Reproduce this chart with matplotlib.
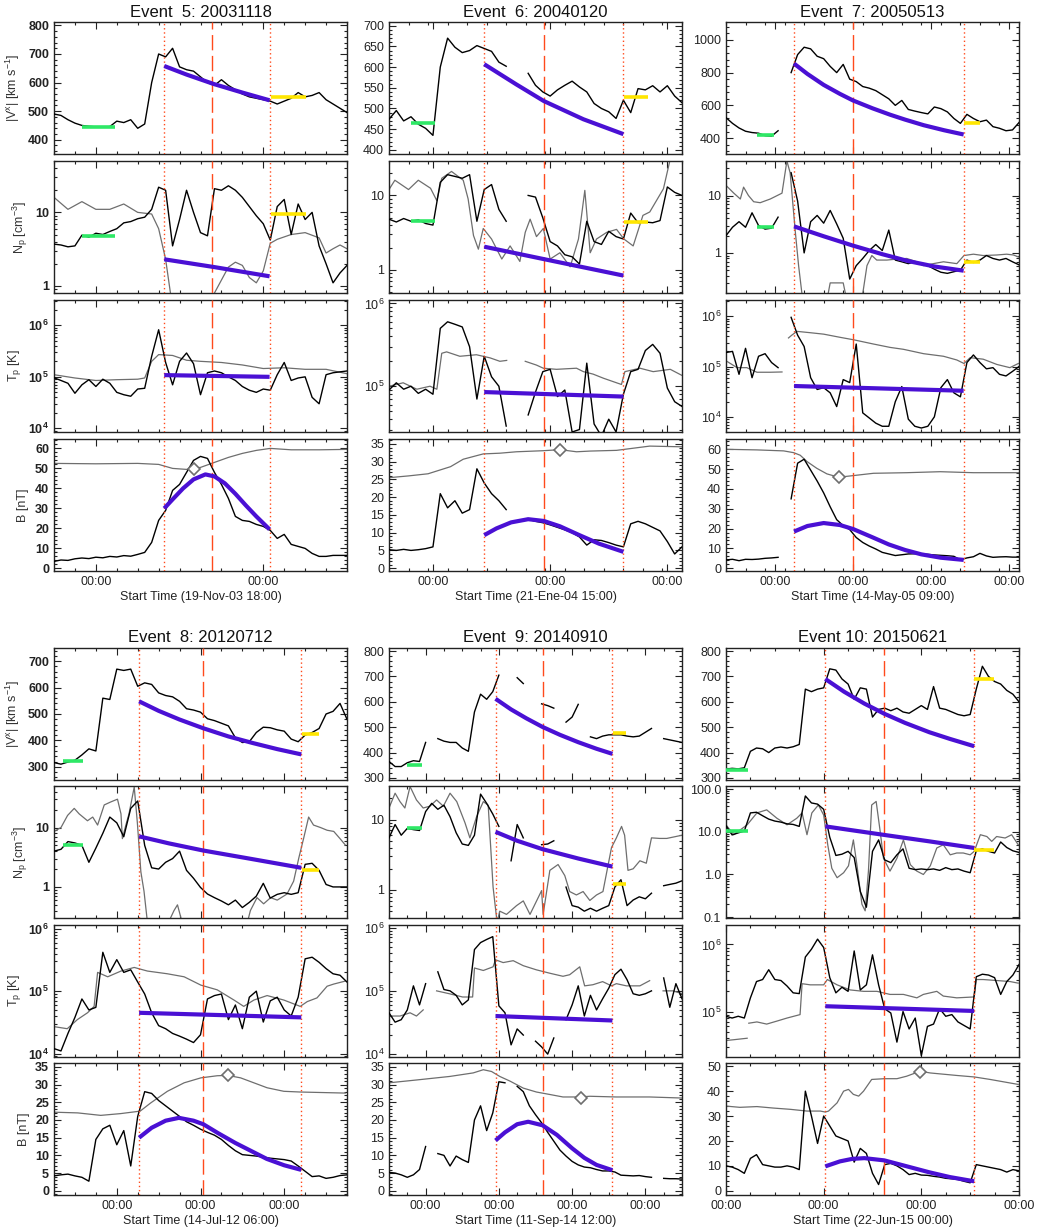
import numpy as np
import matplotlib
matplotlib.use('Agg')
import matplotlib.pyplot as plt
from matplotlib.ticker import (MultipleLocator, FixedLocator, LogLocator,
                               NullFormatter, FuncFormatter, AutoMinorLocator)

plt.rcParams['font.family'] = ['Liberation Sans', 'DejaVu Sans']
plt.rcParams['mathtext.fontset'] = 'custom'
plt.rcParams['mathtext.rm'] = 'Liberation Sans'
plt.rcParams['mathtext.bf'] = 'Liberation Sans:bold'
plt.rcParams['mathtext.default'] = 'regular'

nan = np.nan

# ---------------- Event 5 (hours after 19-Nov-03 18:00, 1 h samples) ----------------
e5_v = [490, 485, 470, 458, 450, 447, 445, 444, 446, 465, 460, 470, 440, 455, 600, 700, 690, 720, 655, 645,
        640, 620, 600, 590, 610, 590, 575, 560, 550, 545, 540, 535, 525, 535, 545, 565, 550, 555, 565, 540,
        525, 510, 495]
e5_n = [3.7, 3.6, 3.4, 3.5, 4.9, 4.6, 5.2, 5.0, 5.5, 6.0, 7.2, 7.5, 8.2, 8.6, 11, 22, 20, 3.5, 8, 20,
        10, 5.3, 4.8, 21, 20, 23, 20, 16, 12, 9, 7, 4.2, 12, 15, 5, 13, 8, 10, 3.5, 2,
        1.1, 1.5, 1.9]
e5_t = [96, 85, 75, 48, 70, 88, 65, 90, 75, 50, 45, 42, 58, 60, 250, 820, 190, 70, 200, 290,
        180, 45, 120, 130, 120, 100, 85, 65, 55, 50, 58, 55, 110, 190, 85, 95, 100, 40, 30, 110,
        120, 125, 130]
e5_b = [3.5, 4.2, 4.0, 4.8, 5.2, 4.9, 5.6, 5.3, 6.0, 5.7, 6.4, 6.1, 7.0, 8.0, 13, 24, 29, 39, 42, 48,
        54, 56, 55, 48, 42, 35, 26, 24, 23.5, 22, 21, 19, 15, 17, 12, 11, 10, 7.5, 6, 6,
        6.5, 6.5, 6.5]
e5_ng_t = [0, 2, 4, 6, 8, 10, 12, 14, 15, 16, 17, 22, 23, 24, 25, 26, 27, 28, 29, 30, 31, 32, 34, 36, 38, 39, 40, 41, 42]
e5_ng = [16, 11, 14, 11, 11, 13, 10, 9.5, 6, 2.3, 0.5, 0.5, 0.8, 1.2, 1.8, 2.1, 1.9, 1.3, 1.1, 1.6, 3.8, 4.3, 5, 5.3,
         4.5, 2.8, 3.2, 3.6, 3.2]
e5_tg_t = [0, 3, 6, 9, 12, 13, 14, 15, 17, 19, 21, 24, 27, 30, 33, 36, 39, 42]
e5_tg = [110, 95, 85, 88, 90, 95, 200, 270, 260, 210, 200, 190, 170, 145, 150, 140, 140, 115]
e5_bg_t = [0, 6, 12, 15, 17, 19, 21, 23, 25, 27, 29, 31, 34, 38, 42]
e5_bg = [52.5, 52.3, 52.5, 52, 50, 49.5, 50.5, 53, 55.5, 57.5, 59, 60, 59.3, 59.3, 59.5]
e5_vfit_t = [15.8, 19, 22.9, 27, 30.9]
e5_vfit = [658, 628, 595, 565, 538]
e5_nfit_t = [15.8, 23, 30.9]
e5_nfit = [2.3, 1.8, 1.35]
e5_tfit_t = [15.8, 30.9]
e5_tfit = [108, 100]
e5_bfit_t = [15.8, 17, 18.5, 20, 21.7, 23, 24.5, 26, 27.5, 29, 30.9]
e5_bfit = [30, 34.5, 40, 44.5, 47, 46, 42.5, 37.3, 31.5, 26, 19.5]

# ---------------- Event 6 (hours after 21-Jan-04 15:00, 1.5 h samples) ----------------
e6_v = [474, 495, 470, 480, 462, 452, 435, 600, 670, 648, 635, 640, 652, 645, 638, 612, 602, nan, nan, 585,
        556, 540, 530, 545, 556, 566, 552, 540, 512, 500, 492, 476, 520, 490, 548, 545, 555, 540, 555, 530, 514]
e6_n = [4.8, 4.4, 4.9, 4.5, 4.7, 4.2, 4.0, 15, 19, 18, 17, 19, 4.5, 12, 14, 6.5, 4.5, nan, nan, 10,
        9.5, 5, 2.4, 2.1, 1.6, 1.5, 1.2, 4.5, 2.4, 2.2, 3.3, 2.8, 2.6, 5.8, 4.3, 4.4, 4.3, 4.6, 13, 11, 10]
e6_t = [90, 110, 92, 100, 82, 92, 80, 500, 600, 560, 520, 300, 70, 230, 130, 100, 33, nan, nan, 45,
        85, 150, 160, 75, 90, 28, 30, 190, 35, 25, 40, 28, 80, 150, 160, 270, 320, 250, 95, 65, 57]
e6_b = [5.2, 5, 5.3, 5, 5.2, 5.5, 6, 21, 17, 19, 15.5, 16.5, 28, 24, 21, 19, 16.5, nan, nan, 13.8,
        13.2, 12.8, 12.2, 11.5, 10.8, 10, 8.8, 6.5, 8, 7.8, 7.2, 6.5, 6, 12.5, 13.2, 12.5, 11.5, 10.5, 7.5, 4, 6]
e6_ng_t = [0, 1.2, 4, 6, 8.5, 9.8, 10.8, 12.8, 15.2, 16.2, 17.3, 18.3, 19.3, 21, 23.1, 24.8, 26.8, 27.9, 28.9,
           30.2, 31.6, 33, 35, 37.1, 38.8, 40.1, 41.2, 42.5, 44.6, 46.6, 48.1, 50, 52, 53.4, 56.2, 57.5, 58.5]
e6_ng = [12, 16, 12, 16, 12.5, 8.5, 17, 21, 16, 9, 2.9, 1.9, 3.6, 2.6, 1.4, 2.1, 1.3, 3.2, 4.8, 2.8,
         3.6, 1.4, 1.7, 1.1, 2.6, 11.7, 1.7, 2.6, 3.2, 3.5, 2.6, 2.1, 5.4, 6, 12.3, 29, 45]
e6_tg_t = [0, 2.9, 5.7, 8.4, 9.8, 10.8, 11.8, 14.5, 17.9, 20.7, 22.7, 24.1, 25, 27.9, 30.2, 31.6, 34.3, 38.4,
           39.8, 41.8, 43.9, 46.6, 47.6, 48.3, 51.4, 54.1, 57.6, 60]
e6_tg = [100, 110, 92, 100, 92, 250, 260, 230, 240, 220, 200, 205, nan, 200, 180, 165, 160, 165,
         150, 140, 125, 110, 105, 150, 165, 150, 160, 135]
e6_bg_t = [0, 4, 8, 12.6, 15.2, 19.3, 22.7, 26.1, 31.6, 35, 38.4, 41.2, 46.6, 53.4, 60]
e6_bg = [25.5, 26, 26.6, 28.6, 30.7, 32.2, 32.4, 32.8, 33.1, 33.4, 32.8, 33, 33.2, 34.4, 34.2]
e6_vfit_t = [19.5, 26.1, 31.7, 39.8, 48]
e6_vfit = [607, 558, 518, 474, 438]
e6_nfit_t = [19.5, 34, 48]
e6_nfit = [2.05, 1.3, 0.84]
e6_tfit_t = [19.5, 48]
e6_tfit = [85, 75]
e6_bfit_t = [19.5, 22, 25, 28.5, 31.7, 35, 39, 43, 48]
e6_bfit = [9.3, 11.2, 12.9, 13.8, 13.3, 11.8, 9.3, 6.9, 4.6]

# ---------------- Event 7 (hours after 14-May-05 09:00, 2 h samples) ----------------
e7_v = [525, 490, 462, 442, 434, 430, 415, 412, 445, nan, 800, 910, 955, 945, 900, 885, 838, 800, 850, 760,
        745, 715, 705, 690, 665, 640, 600, 630, 575, 565, 556, 548, 590, 580, 560, 520, 490, 545, 520, 500,
        510, 470, 460, 445, 450, 495]
e7_n = [2, 2.8, 3.5, 2.8, 5, 3, 2.6, 2.7, 4.2, nan, 25, 8, 1.0, 3.5, 4.5, 3.3, 5.5, 3.2, 1.8, 0.35,
        0.6, 0.8, 1.1, 1.4, 1.1, 2.5, 0.75, 0.7, 0.65, 0.7, 0.65, 0.6, 0.52, 0.46, 0.44, 0.47, 0.5, 0.75, 0.68, 0.75,
        0.9, 0.8, 0.75, 0.8, 0.7, 0.62]
e7_t = [190, 200, 70, 230, 60, 160, 180, 120, 95, nan, 950, 420, 250, 60, 35, 38, 30, 16, 55, 48,
        280, 12, 9.5, 7.5, 6.5, 6.5, 20, 40, 9, 6.5, 6, 6.5, 10, 38, 55, 30, 25, 120, 170, 120,
        90, 95, 70, 65, 80, 100]
e7_b = [4.2, 4.5, 3.8, 4.5, 4.4, 4.6, 5, 5.2, 5.5, nan, 35, 53, 55, 49.5, 44, 38, 31, 24.5, 21.5, 19.5,
        15.5, 13, 11.2, 9.7, 8, 7.2, 6.4, 6.8, 7.2, 7.3, 7.2, 7, 6.7, 6.5, 6.3, 6, 4.2, 5.2, 5.8, 7.5,
        6.2, 5.5, 5.7, 5.8, 5.6, 5.6]
e7_ng_t = [0, 2.4, 4.4, 5.4, 6.9, 8.5, 10.5, 13.6, 17.2, 18.7, 19.7, 21.3, 22.3, 23.3, 24, 31, 32, 36, 37.1,
           41.7, 43.3, 44.8, 46.3, 49.4, 52.5, 55.5, 58.6, 60.7, 63.7, 66.8, 70.9, 73.1, 76, 79, 83.2, 86.2,
           88.3, 89.8]
e7_ng = [15, 11, 8.7, 14, 10, 7.8, 7.5, 8.7, 11, 40, 25, 2.3, 0.6, 0.2, 0.15, 0.15, 0.3, 0.3, 0.15,
         0.15, 0.6, 0.9, 0.75, 0.75, 0.78, 0.8, 0.7, 0.6, 0.65, 0.7, 0.65, 0.9, 0.95, 0.9, 0.92, 0.95,
         0.92, 0.85]
e7_tg_t = [0, 3.4, 6.4, 9.5, 13.6, 17.2, 18, 19.2, 20.2, 21.8, 25.9, 30, 35.1, 39.2, 45.3, 50.4, 54.5,
           60.7, 66.8, 70.9, 73.1, 75, 79, 83.2, 87.2, 89.8]
e7_tg = [130, 95, 95, 77, 77, 78, nan, 370, 420, 500, 470, 440, 380, 340, 280, 240, 220,
         180, 160, 135, 115, 150, 140, 110, 95, 115]
e7_bg_t = [0, 9.5, 17.7, 20.8, 22.8, 24.9, 27.9, 31, 34.6, 38.9, 45.3, 55.5, 65.8, 76, 89.8]
e7_bg = [60, 59.7, 59.2, 58.3, 57, 53.8, 50.4, 47.6, 45.9, 46.7, 47.9, 48.2, 48.7, 48.2, 48.2]
e7_vfit_t = [20.9, 25, 30, 35, 39, 45, 50.4, 55, 60.7, 67, 73]
e7_vfit = [855, 792, 725, 670, 630, 582, 543, 513, 479, 448, 422]
e7_nfit_t = [20.9, 30, 39, 48, 56, 64, 73]
e7_nfit = [2.9, 1.95, 1.34, 0.95, 0.72, 0.58, 0.49]
e7_tfit_t = [20.9, 73]
e7_tfit = [41, 33]
e7_bfit_t = [20.9, 25, 30, 35, 39, 45, 50, 55, 60, 66, 73]
e7_bfit = [18.5, 21.3, 22.8, 21.8, 19.8, 15.6, 12, 9.2, 7, 5.3, 4.2]

# ---------------- Event 8 (hours after 14-Jul-12 06:00, 2 h samples) ----------------
e8_v = [316, 310, 318, 325, 345, 368, 360, 560, 555, 670, 665, 670, 605, 618, 612, 580, 570, 565, 548, 520,
        515, 507, 482, 475, 465, 455, 410, 392, 395, 430, 450, 448, 440, 435, 405, 395, 420, 430, 445, 500,
        510, 540, 480]
e8_n = [4, 4.3, 5.8, 5.5, 5, 2.6, 4.5, 8, 15, 12, 7, 21, 28, 5, 2.1, 2, 2.6, 3, 4, 1.9,
        1.4, 0.98, 0.76, 0.66, 0.58, 0.5, 0.6, 0.45, 0.55, 0.7, 1.15, 0.65, 0.75, 0.8, 0.75, 0.8, 2.4, 2.5, 1.9, 1.1,
        1.0, 1.0, 1.0]
e8_t = [12, 11, 21, 38, 75, 50, 55, 420, 200, 320, 200, 220, 140, 90, 45, 28, 25, 21, 19, 17,
        15, 20, 75, 85, 90, 35, 60, 25, 80, 100, 32, 70, 80, 50, 40, 80, 330, 350, 290, 230,
        190, 180, 140]
e8_b = [4.2, 4.5, 4.7, 4.2, 3.8, 2.7, 14.5, 17.5, 18.5, 13, 17, 7, 21, 28, 27.5, 25.5, 24, 22.5, 21, 19.5,
        18.5, 17.4, 16.5, 15.7, 14.5, 12.8, 11.3, 10.2, 10, 9.8, 9.5, 9.2, 9, 8.8, 8.4, 7, 5.5, 4, 4.2, 3.5,
        3.8, 4.3, 4.5]
e8_ng_t = [0, 2, 3.9, 5.8, 7.2, 9.6, 11.1, 12.5, 14.4, 16.3, 18.2, 19.2, 19.6, 20.6, 21.5, 23, 23.9, 24.9,
           25.8, 26.8, 32, 34.4, 35.4, 36.4, 37, 55, 56.3, 58.2, 60.1, 62.1, 64, 66.8, 68.7, 70.2, 71.6, 73,
           74.4, 76.4, 78.3, 80.2, 82.1, 83.5]
e8_ng = [8.6, 10, 16, 21, 17, 13, 15, 11, 24, 27, 30, 17, 6.5, 11, 17, 48, 12, 1.8,
         0.85, 0.25, 0.2, 0.4, 0.5, 0.3, 0.2, 0.2, 0.4, 0.66, 0.52, 0.66, 0.6, 0.76, 1.25, 3.1, 6.7, 15,
         11, 10, 9, 8.6, 6.4, 5.1]
e8_tg_t = [0, 3.8, 6.7, 9.6, 11.5, 12.5, 15.4, 19.2, 23, 26.8, 32.5, 37.3, 42.1, 46.8, 51.6, 54.4, 57.3,
           61.1, 65.9, 70.6, 72.6, 75.4, 78.3, 80.2, 83.5]
e8_tg = [27, 25, 35, 45, 57, 200, 170, 210, 240, 210, 190, 170, 125, 105, 72, 57, 72,
         85, 72, 57, 68, 78, 120, 130, 145]
e8_bg_t = [0, 6.8, 13.4, 19.1, 24.7, 27.7, 32.5, 37.3, 42.1, 46.8, 49.8, 53.5, 57.3, 61.1, 65.9, 70.6, 83.5]
e8_bg = [22.2, 22, 21.3, 21.8, 22.5, 24.8, 28.1, 30.5, 31.9, 32.5, 32.6, 31.9, 30.5, 29.1, 28.1, 27.9, 27.6]
e8_vfit_t = [24.4, 30, 36, 42.8, 50, 57, 64, 70.9]
e8_vfit = [548, 512, 479, 446, 415, 390, 367, 347]
e8_nfit_t = [24.4, 33, 42.8, 56, 70.9]
e8_nfit = [7.1, 5.4, 4.1, 3.0, 2.1]
e8_tfit_t = [24.4, 70.9]
e8_tfit = [45, 38]
e8_bfit_t = [24.4, 28, 32, 35.8, 40, 42.8, 47, 52, 57, 61, 66, 70.9]
e8_bfit = [15, 17.8, 19.8, 20.6, 19.8, 18.8, 16.3, 13.5, 11, 9, 7.2, 5.9]

# ---------------- Event 9 (hours after 11-Sep-14 12:00, 2 h samples) ----------------
e9_v = [365, 345, 345, 360, 368, 365, 440, nan, 455, 445, 440, 440, 418, 405, 560, 630, 610, 640, 705, nan,
        nan, 695, 672, nan, nan, 592, 585, 575, nan, 520, 540, 590, nan, 462, 455, 465, 470, 470, 470, 465,
        462, 465, 480, 495, nan, 455, 450, 445, 440]
e9_n = [5.5, 8.5, 6, 7.5, 7.2, 7, 13, 17, 14, 16, 11, 6.5, 4.5, 4.3, 6, 23, 17, 12, 8, nan,
        2.6, 8.5, 5.5, nan, nan, 4.4, 4.5, 5, nan, 1.1, 0.6, 0.57, 0.5, 0.55, 0.5, 0.55, 0.6, 1.1, 1.4, 0.6,
        0.72, 0.8, 0.75, 0.9, nan, 1.15, 1.2, 1.25, 1.35]
e9_t = [45, 32, 35, 50, 120, 60, 130, nan, 200, 105, 100, 85, 60, 72, 450, 580, 650, 720, 58, 45,
        14, 25, 20, nan, 16, 13, 10, 18, nan, 35, 60, 120, 40, 85, 50, 75, 110, 180, 220, 150,
        90, 85, 90, 100, nan, 160, 55, 130, 75]
e9_b = [5.2, 5, 4.5, 3.8, 4.5, 6, 12.5, nan, 10.5, 10, 7, 9.8, 8.8, 8, 20, 24, 17, 22, 30.8, 30.5,
        nan, 29.5, 28, 24, 21.5, 19.2, 16.5, 14, 11.5, 9.8, 8.3, 7.3, 6.7, 6.5, 6, 5.6, 5.6, 5.3, 4.4, 4.3,
        4.2, 4.3, 4, 3.8, nan, 3.5, 3.4, 3.4, 3.3]
e9_ng_t = [0, 2, 3.6, 5.2, 6.9, 9, 11.2, 13.4, 15.6, 17.8, 20, 22.2, 24.9, 26.5, 28.7, 30.9, 32.5, 34.1,
           35.4, 36.3, 38.5, 41.8, 44, 46.2, 50, 50.5, 52.7, 55.4, 57.6, 59.2, 61.4, 63.6, 65.8, 68, 70.1,
           72.9, 74.5, 76.2, 77.2, 78.3, 80, 82.2, 84.3, 86, 88.7, 91, 93.6, 96]
e9_ng = [14.6, 23.7, 18, 14.6, 29.5, 19, 14.6, 15.5, 19, 15.5, 23.7, 18, 9, 5.5, 11, 18, 16, 1.1,
         0.35, 0.5, 0.45, 0.6, 0.7, 0.45, 0.98, 0.45, 1.9, 2.3, 1.6, 0.95, 0.85, 0.95, 0.71, 0.85, 0.95,
         4, 5.5, 8, 6, 1.9, 2, 2.6, 2.4, 5.5, 5.4, 5.4, 5.7, 6]
e9_tg_t = [0, 3.6, 6.9, 9, 11.2, 12.3, 15.6, 19.8, 24.1, 27.4, 28, 30.9, 34.1, 34.9, 37.4, 40.7, 44, 48.3,
           52.7, 57, 59.2, 62.5, 64.1, 66.8, 70, 72.9, 74.5, 77.8, 82.2, 85.4, 87.5, 89.8, 93.1, 96]
e9_tg = [40, 40, 45, 40, 50, nan, 100, 90, 80, 80, 230, 210, 240, 310, 280, 300, 250, 215,
         190, 170, 180, 240, 120, 125, 140, 120, 130, 120, 120, 145, nan, 100, 100, 90]
e9_bg_t = [0, 9, 19.9, 27.6, 30.9, 33.6, 36.3, 39.6, 44, 48.3, 52.7, 57, 62.5, 65.8, 74.5, 85.4, 96]
e9_bg = [30.5, 31.3, 32.3, 33.3, 34.2, 33.7, 32.3, 31, 29, 27.9, 27.2, 26.5, 26.5, 26.7, 26.5, 26.5, 26.2]
e9_vfit_t = [34.9, 40, 45, 50.3, 56, 62, 68, 73.2]
e9_vfit = [612, 570, 535, 501, 470, 441, 415, 395]
e9_nfit_t = [34.9, 42, 50.3, 62, 73.2]
e9_nfit = [6.7, 5, 3.8, 2.8, 2.15]
e9_tfit_t = [34.9, 73.2]
e9_tfit = [40, 34]
e9_bfit_t = [34.9, 38, 42, 45.6, 50.3, 55, 60, 64, 68, 73.2]
e9_bfit = [14.2, 16.5, 18.8, 19.5, 18.5, 15.8, 12, 9.3, 7.3, 5.8]

# ---------------- Event 10 (hours after 22-Jun-15 00:00, 1.5 h samples) ----------------
e10_v = [335, 338, 336, 340, 405, 418, 415, 400, 418, 422, 418, 423, 432, 650, 640, 650, 655, 730, 725, 690,
         670, 610, 655, 650, 540, 570, 575, 565, 575, 560, 555, 570, 585, 570, 660, 575, 570, 560, 550, 545,
         550, 650, 740, 700, 680, 670, 645, 630, 600]
e10_n = [14, 8.5, 9.5, 10.5, 28, 29, 24, 20, 18, 17, 15.5, 15, 13.5, 70, 48, 45, 34, 7.5, 2.8, 3,
         3.5, 2.5, 0.4, 0.17, 3.5, 6.5, 2.2, 1.9, 2.9, 4, 1.4, 1.3, 1.35, 1.3, 1.35, 1.25, 1.45, 1.3, 1.35, 1.2,
         1.1, 3.6, 4, 3.5, 3.2, 5.8, 4.3, 3.6, 3.3]
e10_t = [85, 80, 85, 80, 160, 280, 300, 420, 300, 290, 240, 190, 185, 650, 850, 1200, 900, 320, 190, 230,
         200, 800, 210, 250, 700, 250, 110, 95, 35, 100, 55, 80, 22, 60, 65, 110, 85, 90, 70, 62,
         55, 330, 360, 350, 320, 180, 280, 350, 500]
e10_b = [10, 9.5, 8.5, 7, 13, 14.5, 10.5, 10, 9.5, 9.5, 10, 9.5, 8.5, 40, 30, 19, 30, 26, 22, 21,
         20, 11.5, 17, 15, 7, 2.5, 10.5, 11, 10, 8.5, 6.5, 7, 6.3, 6.2, 5.8, 5.5, 5, 4.8, 4.5, 3.8,
         3.2, 10.5, 10, 9.5, 9, 8.5, 7.5, 8.5, 8]
e10_ng_t = [0, 1.9, 5.2, 7.6, 10, 12.5, 15, 17.4, 18.7, 19.9, 21.1, 22.7, 24, 25, 26, 27.3, 28.9, 30.1,
            31.3, 32.2, 33.4, 34.2, 35, 35.8, 36.9, 37.9, 38.7, 40.3, 42, 43.6, 45.3, 46.9, 48.5, 50.2,
            51.8, 53.4, 55.1, 56.7, 58.3, 60, 61, 62.5, 64.1, 65.3, 66.5, 68.6, 70.2, 71.8]
e10_ng = [14.7, 8.6, 14.7, 28, 33, 21, 14.7, 21, 28, 8.6, 28, 43, 25, 5, 1.4, 0.84, 1.1, 1.6,
          6.5, 1.6, 0.2, 0.14, 1.2, 43, 52, 10, 2.4, 1.2, 2.4, 6.5, 1.7, 1.2, 1.0, 1.6,
          4.2, 5, 2.9, 3.2, 3.2, 2.9, 3.5, 8.6, 7.8, 6, 7.8, 7.2, 8.6, 5]
e10_tg_t = [0, 1.9, 5.2, 5.4, 5.6, 7.6, 10, 12.5, 15, 18.2, 18.7, 20.7, 24, 24.9, 27.3, 30.5, 33.8, 37.1,
            40.3, 43.6, 46.9, 48.5, 51.8, 53.4, 56.7, 61, 61.5, 63.2, 66.5, 69.8, 71.8]
e10_tg = [37, 38, 40, nan, 67, 70, 65, 72, 80, 90, 260, 250, 250, 300, 250, 210, 200, 200,
          180, 180, 160, 180, 200, 170, 160, 165, 300, 300, 290, 280, 265]
e10_bg_t = [0, 3.4, 7.6, 11.7, 15.8, 19.9, 23.2, 24.4, 25.2, 27.3, 28.9, 30.1, 31.3, 32.6, 33.8, 35.8,
            38.9, 42, 44.4, 47.7, 50.2, 56.7, 61, 64.9, 71.8]
e10_bg = [34, 33.5, 33.8, 33.2, 32.7, 32, 32, 31.6, 32, 35.3, 40, 40.7, 38.7, 38, 40, 44.7,
          45, 45, 46, 48, 47.3, 46.3, 45.7, 44.7, 42.7]
e10_vfit_t = [24.4, 29, 34, 38.9, 44, 50, 55, 61]
e10_vfit = [690, 640, 593, 553, 517, 480, 454, 425]
e10_nfit_t = [24.4, 38.9, 50, 61]
e10_nfit = [13.5, 8.5, 6, 4.2]
e10_tfit_t = [24.4, 61]
e10_tfit = [120, 102]
e10_bfit_t = [24.4, 28, 31, 34, 38.9, 44, 50, 55, 61]
e10_bfit = [9.8, 11.8, 12.8, 13.1, 12.2, 10, 7.4, 5.5, 3.8]

# ---------------- per-event settings ----------------
events = [
    dict(num=5, date='20031118', start='19-Nov-03 18:00', step=1.0, span=42, days=[6, 30], minor=3,
         v=e5_v, n=e5_n, t=e5_t, b=e5_b, ng=(e5_ng_t, e5_ng), tg=(e5_tg_t, e5_tg), bg=(e5_bg_t, e5_bg),
         vfit=(e5_vfit_t, e5_vfit), nfit=(e5_nfit_t, e5_nfit), tfit=(e5_tfit_t, e5_tfit),
         bfit=(e5_bfit_t, e5_bfit), lines=(15.8, 22.7, 30.9), diamond=(20, 49.5),
         green=(4, 8.8, 445, 4.8), yellow=(31.1, 36.1, 550, 9.5),
         vlim=(350, 812), vstep=100, nlim=(0.8, 50), tlim=(8.5e3, 3.1e6), blim=(-1.3, 64.7), bstep=10),
    dict(num=6, date='20040120', start='21-Ene-04 15:00', step=1.5, span=60, days=[9, 33, 57], minor=4,
         v=e6_v, n=e6_n, t=e6_t, b=e6_b, ng=(e6_ng_t, e6_ng), tg=(e6_tg_t, e6_tg), bg=(e6_bg_t, e6_bg),
         vfit=(e6_vfit_t, e6_vfit), nfit=(e6_nfit_t, e6_nfit), tfit=(e6_tfit_t, e6_tfit),
         bfit=(e6_bfit_t, e6_bfit), lines=(19.5, 31.7, 48), diamond=(35, 33.4),
         green=(4.6, 9.4, 466, 4.6), yellow=(48.1, 53.1, 527, 4.4),
         vlim=(390, 709), vstep=50, nlim=(0.49, 29), tlim=(2.8e4, 1.1e6), blim=(-0.8, 36.4), bstep=5),
    dict(num=7, date='20050513', start='14-May-05 09:00', step=2.0, span=90, days=[15, 39, 63, 87], minor=6,
         v=e7_v, n=e7_n, t=e7_t, b=e7_b, ng=(e7_ng_t, e7_ng), tg=(e7_tg_t, e7_tg), bg=(e7_bg_t, e7_bg),
         vfit=(e7_vfit_t, e7_vfit), nfit=(e7_nfit_t, e7_nfit), tfit=(e7_tfit_t, e7_tfit),
         bfit=(e7_bfit_t, e7_bfit), lines=(20.9, 39, 73), diamond=(34.8, 46),
         green=(9.5, 14.6, 418, 2.8), yellow=(73.1, 78, 495, 0.7),
         vlim=(303, 1109), vstep=200, nlim=(0.2, 40), tlim=(5e3, 2.1e6), blim=(-1.4, 65.2), bstep=10),
    dict(num=8, date='20120712', start='14-Jul-12 06:00', step=2.0, span=84, days=[18, 42, 66], minor=6,
         v=e8_v, n=e8_n, t=e8_t, b=e8_b, ng=(e8_ng_t, e8_ng), tg=(e8_tg_t, e8_tg), bg=(e8_bg_t, e8_bg),
         vfit=(e8_vfit_t, e8_vfit), nfit=(e8_nfit_t, e8_nfit), tfit=(e8_tfit_t, e8_tfit),
         bfit=(e8_bfit_t, e8_bfit), lines=(24.4, 42.8, 70.9), diamond=(49.8, 32.6),
         green=(2.5, 8.2, 323, 5.1), yellow=(71.1, 75.9, 424, 1.9),
         vlim=(250, 750), vstep=100, nlim=(0.3, 50), tlim=(8.8e3, 1.15e6), blim=(-1.2, 36.1), bstep=5),
    dict(num=9, date='20140910', start='11-Sep-14 12:00', step=2.0, span=96, days=[12, 36, 60, 84], minor=6,
         v=e9_v, n=e9_n, t=e9_t, b=e9_b, ng=(e9_ng_t, e9_ng), tg=(e9_tg_t, e9_tg), bg=(e9_bg_t, e9_bg),
         vfit=(e9_vfit_t, e9_vfit), nfit=(e9_nfit_t, e9_nfit), tfit=(e9_tfit_t, e9_tfit),
         bfit=(e9_bfit_t, e9_bfit), lines=(34.9, 50.3, 73.2), diamond=(62.8, 26.2),
         green=(5.8, 10.7, 353, 7.5), yellow=(73.4, 77.8, 476, 1.2),
         vlim=(292, 812), vstep=100, nlim=(0.4, 30), tlim=(9e3, 1.1e6), blim=(-1.2, 36.1), bstep=5),
    dict(num=10, date='20150621', start='22-Jun-15 00:00', step=1.5, span=72, days=[0, 24, 48, 72], minor=6,
         v=e10_v, n=e10_n, t=e10_t, b=e10_b, ng=(e10_ng_t, e10_ng), tg=(e10_tg_t, e10_tg), bg=(e10_bg_t, e10_bg),
         vfit=(e10_vfit_t, e10_vfit), nfit=(e10_nfit_t, e10_nfit), tfit=(e10_tfit_t, e10_tfit),
         bfit=(e10_bfit_t, e10_bfit), lines=(24.4, 38.9, 61), diamond=(47.7, 47.5),
         green=(0, 5.3, 333, 10.8), yellow=(61, 65.9, 688, 3.8),
         vlim=(292, 812), vstep=100, nlim=(0.095, 120), tlim=(2.1e4, 1.95e6), blim=(-1.7, 51.3), bstep=10),
]

# colours
c_gray = '#6e6e6e'
c_fit = '#4a10d4'
c_green = '#2ee866'
c_yellow = '#ffe600'
c_red = '#ff4a1c'

W, H = 1037, 1230
fig = plt.figure(figsize=(W / 100, H / 100), dpi=100)

col_left = [54, 389, 726]
ax_w = 293
row_tops = [[22, 161, 300, 439], [648, 786, 925, 1063]]
ax_h = 132
title_y = [12.5, 637]

ylabels = [r'|V$^x$| [km s$^{-1}$]', r'N$_p$ [cm$^{-3}$]', r'T$_p$ [K]', 'B [nT]']


def style(ax, bold):
    for s in ax.spines.values():
        s.set_color('#222222')
        s.set_linewidth(1.0)
    ax.tick_params(which='both', direction='in', top=True, right=True, colors='#222222', width=0.8)
    ax.tick_params(which='major', length=5, labelsize=9)
    ax.tick_params(which='minor', length=2.5)
    for lab in ax.get_yticklabels():
        lab.set_fontweight('bold' if bold else 'normal')


for i, ev in enumerate(events):
    row, col = divmod(i, 3)
    left = col_left[col]
    bold = (col == 0)
    fig.text((left + ax_w / 2) / W, 1 - title_y[row] / H, 'Event %2d: %s' % (ev['num'], ev['date']),
             ha='center', va='center', fontsize=12, color='#111111')
    tt = np.arange(len(ev['v'])) * ev['step']
    series = [ev['v'], ev['n'], np.array(ev['t']) * 1e3, ev['b']]
    grays = [None, ev['ng'], ev['tg'], ev['bg']]
    fits = [ev['vfit'], ev['nfit'], ev['tfit'], ev['bfit']]
    for k in range(4):
        top = row_tops[row][k]
        ax = fig.add_axes([left / W, 1 - (top + ax_h) / H, ax_w / W, ax_h / H])
        ax.plot(tt, series[k], color='black', lw=1.0, zorder=3)
        if grays[k] is not None:
            gt, gv = grays[k]
            gv = np.array(gv, dtype=float)
            if k == 2:
                gv = gv * 1e3
            ax.plot(gt, gv, color=c_gray, lw=0.9, zorder=2)
        ft, fv = fits[k]
        fv = np.array(fv, dtype=float)
        if k == 2:
            fv = fv * 1e3
        ax.plot(ft, fv, color=c_fit, lw=3, zorder=5, solid_capstyle='butt', solid_joinstyle='round')
        t1, tc, t2 = ev['lines']
        ax.axvline(t1, color=c_red, lw=1.0, ls=(0, (1, 2)), zorder=4)
        ax.axvline(t2, color=c_red, lw=1.0, ls=(0, (1, 2)), zorder=4)
        ax.axvline(tc, color=c_red, lw=1.0, ls=(0, (11, 4)), zorder=4)
        if k in (0, 1):
            g0, g1, gv0, gn0 = ev['green']
            y0, y1, yv0, yn0 = ev['yellow']
            ax.plot([g0, g1], [gv0, gv0] if k == 0 else [gn0, gn0], color=c_green, lw=2.6,
                    zorder=6, solid_capstyle='butt')
            ax.plot([y0, y1], [yv0, yv0] if k == 0 else [yn0, yn0], color=c_yellow, lw=2.6,
                    zorder=6, solid_capstyle='butt')
        if k == 3:
            dx, dy = ev['diamond']
            ax.plot([dx], [dy], marker='D', ms=6.5, mfc='white', mec=c_gray, mew=1.2, zorder=6)

        ax.set_xlim(0, ev['span'])
        ax.xaxis.set_major_locator(FixedLocator(ev['days']))
        ax.xaxis.set_minor_locator(MultipleLocator(ev['minor']))
        if k == 3:
            ax.set_xticklabels(['00:00'] * len(ev['days']))
            ax.set_xlabel('Start Time (%s)' % ev['start'], fontsize=9, color='#222222', labelpad=2)
        else:
            ax.set_xticklabels([])

        if k == 0:
            ax.set_ylim(*ev['vlim'])
            ax.yaxis.set_major_locator(MultipleLocator(ev['vstep']))
            ax.yaxis.set_minor_locator(AutoMinorLocator(5))
        elif k == 1:
            ax.set_yscale('log')
            ax.set_ylim(*ev['nlim'])
            decs = [d for d in [0.1, 1, 10, 100] if ev['nlim'][0] <= d <= ev['nlim'][1]]
            ax.yaxis.set_major_locator(FixedLocator(decs))
            ax.yaxis.set_minor_locator(LogLocator(base=10, subs=np.arange(2, 10)))
            ax.yaxis.set_minor_formatter(NullFormatter())
            if ev['num'] == 10:
                ax.yaxis.set_major_formatter(FuncFormatter(lambda v, p: '%.1f' % v))
            else:
                ax.yaxis.set_major_formatter(FuncFormatter(lambda v, p: '%g' % v))
        elif k == 2:
            ax.set_yscale('log')
            ax.set_ylim(*ev['tlim'])
            decs = [10.0 ** e for e in range(3, 8) if ev['tlim'][0] <= 10.0 ** e <= ev['tlim'][1]]
            ax.yaxis.set_major_locator(FixedLocator(decs))
            ax.yaxis.set_minor_locator(LogLocator(base=10, subs=np.arange(2, 10)))
            ax.yaxis.set_minor_formatter(NullFormatter())
            if bold:
                ax.yaxis.set_major_formatter(FuncFormatter(
                    lambda v, p: r'$\mathbf{10^{%d}}$' % round(np.log10(v))))
            else:
                ax.yaxis.set_major_formatter(FuncFormatter(
                    lambda v, p: r'$10^{%d}$' % round(np.log10(v))))
        else:
            ax.set_ylim(*ev['blim'])
            ax.yaxis.set_major_locator(MultipleLocator(ev['bstep']))
            ax.yaxis.set_minor_locator(AutoMinorLocator(5))

        style(ax, bold)
        if col == 0:
            ax.set_ylabel(ylabels[k], fontsize=9, color='#333333')

fig.savefig('out.png', dpi=100)
